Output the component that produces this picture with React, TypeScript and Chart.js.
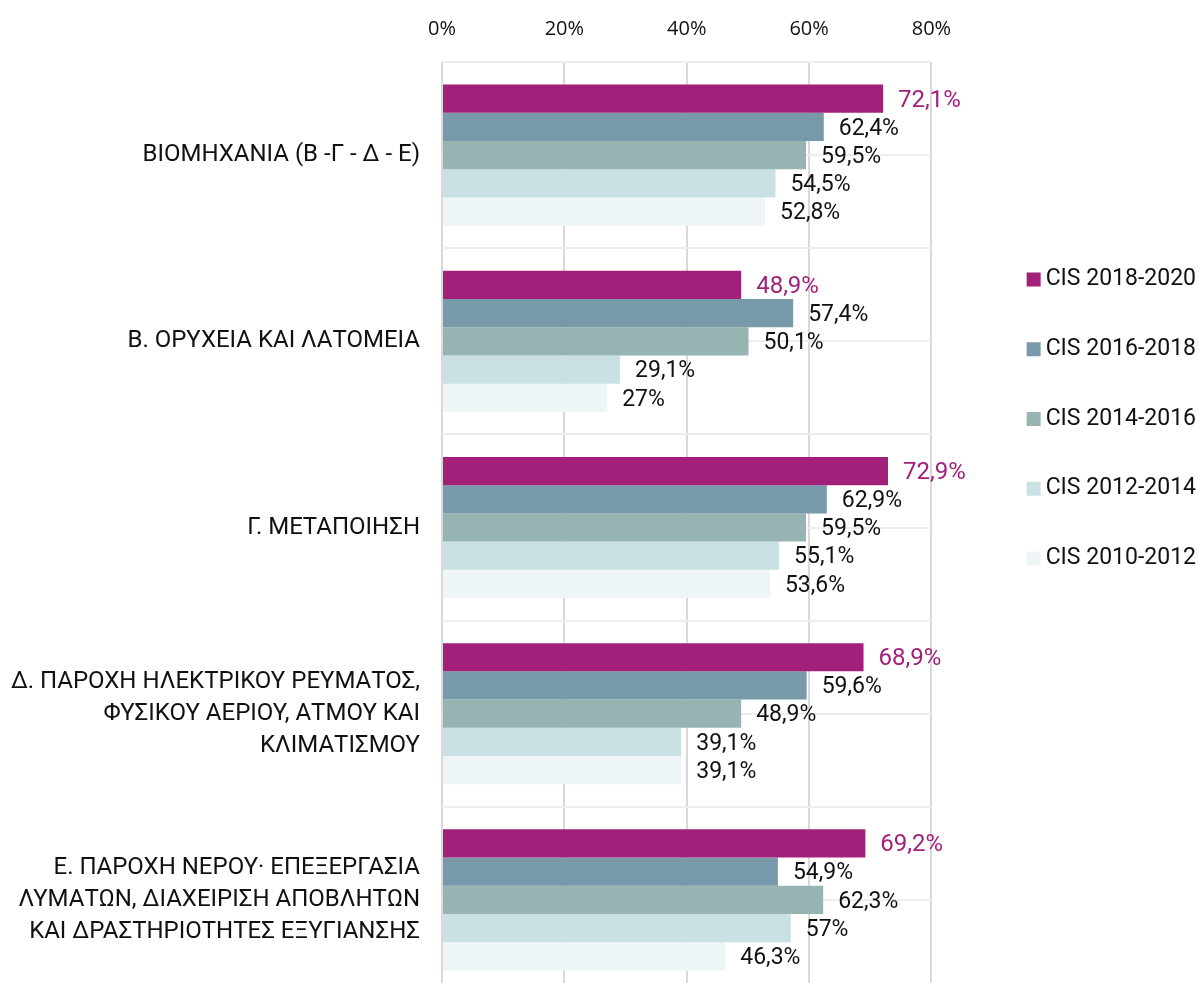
import React, { useEffect, useRef } from "react";
import { Chart, registerables } from "chart.js";

Chart.register(...registerables);

const categories: string[][] = [
  ["ΒΙΟΜΗΧΑΝΙΑ (Β -Γ - Δ - Ε)"],
  ["Β. ΟΡΥΧΕΙΑ ΚΑΙ ΛΑΤΟΜΕΙΑ"],
  ["Γ. ΜΕΤΑΠΟΙΗΣΗ"],
  ["Δ. ΠΑΡΟΧΗ ΗΛΕΚΤΡΙΚΟΥ ΡΕΥΜΑΤΟΣ,", "ΦΥΣΙΚΟΥ ΑΕΡΙΟΥ, ΑΤΜΟΥ ΚΑΙ", "ΚΛΙΜΑΤΙΣΜΟΥ"],
  ["Ε. ΠΑΡΟΧΗ ΝΕΡΟΥ· ΕΠΕΞΕΡΓΑΣΙΑ", "ΛΥΜΑΤΩΝ, ΔΙΑΧΕΙΡΙΣΗ ΑΠΟΒΛΗΤΩΝ", "ΚΑΙ ΔΡΑΣΤΗΡΙΟΤΗΤΕΣ ΕΞΥΓΙΑΝΣΗΣ"],
];

const seriesNames = ["CIS 2018-2020", "CIS 2016-2018", "CIS 2014-2016", "CIS 2012-2014", "CIS 2010-2012"];

const cis2018_2020 = [72.1, 48.9, 72.9, 68.9, 69.2];
const cis2016_2018 = [62.4, 57.4, 62.9, 59.6, 54.9];
const cis2014_2016 = [59.5, 50.1, 59.5, 48.9, 62.3];
const cis2012_2014 = [54.5, 29.1, 55.1, 39.1, 57];
const cis2010_2012 = [52.8, 27, 53.6, 39.1, 46.3];

const xTicks = [0, 20, 40, 60, 80];

const colors = ["#A21F7A", "#7799A9", "#96B4B1", "#C9E1E3", "#EEF5F7"];

const FONT = "Roboto, 'Noto Sans', sans-serif";

const fmt = (v: number) => String(v).replace(".", ",") + "%";

const labelPlugin = {
  id: "barValueLabels",
  afterDatasetsDraw(chart: any) {
    const ctx = chart.ctx;
    ctx.save();
    ctx.textAlign = "left";
    ctx.textBaseline = "middle";
    chart.data.datasets.forEach((ds: any, i: number) => {
      const meta = chart.getDatasetMeta(i);
      if (meta.hidden) return;
      ctx.fillStyle = i === 0 ? colors[0] : "#111111";
      ctx.font = i === 0 ? `24px ${FONT}` : `23px ${FONT}`;
      meta.data.forEach((bar: any, j: number) => {
        ctx.fillText(fmt(ds.data[j]), bar.x + 15, bar.y + 2);
      });
    });
    ctx.restore();
  },
};

export default function App() {
  const ref = useRef<HTMLCanvasElement | null>(null);

  useEffect(() => {
    document.body.style.margin = "0";
    if (!ref.current) return;
    const series = [cis2018_2020, cis2016_2018, cis2014_2016, cis2012_2014, cis2010_2012];
    const chart = new Chart(ref.current, {
      type: "bar",
      data: {
        labels: categories,
        datasets: series.map((d, i) => ({
          label: seriesNames[i],
          data: d,
          backgroundColor: colors[i],
          borderWidth: 0,
          barPercentage: 1,
          categoryPercentage: 0.758,
        })),
      },
      options: {
        indexAxis: "y",
        animation: false,
        responsive: true,
        maintainAspectRatio: false,
        layout: { padding: { left: 0, right: -6, top: 0, bottom: 0 } },
        scales: {
          x: {
            position: "top",
            min: 0,
            max: 80,
            afterBuildTicks: (s: any) => {
              s.ticks = xTicks.map((v) => ({ value: v }));
            },
            afterFit: (s: any) => {
              s.height = 62;
            },
            ticks: {
              callback: (v: any) => v + "%",
              font: { family: "'Open Sans', sans-serif", size: 20 },
              color: "#111111",
              padding: 21,
            },
            grid: { color: "#d9d9d9", lineWidth: 2, drawTicks: false },
            border: { display: false },
          },
          y: {
            position: "left",
            offset: true,
            afterFit: (s: any) => {
              s.width = 442;
              s.paddingTop = 0;
              s.paddingBottom = 0;
            },
            ticks: {
              font: { family: FONT, size: 24, lineHeight: 1.33 },
              color: "#111111",
              padding: 22,
            },
            grid: { color: "#eeeeee", lineWidth: 2, drawTicks: false, offset: true },
            border: { display: false },
          },
          y2: {
            type: "category",
            position: "right",
            labels: categories.map((c) => c.join(" ")),
            offset: true,
            afterFit: (s: any) => {
              s.width = 55;
              s.paddingTop = 0;
              s.paddingBottom = 0;
            },
            ticks: { display: false },
            grid: { color: "#eeeeee", lineWidth: 2, drawTicks: false, offset: false },
            border: { display: false },
          },
        } as any,
        plugins: {
          legend: {
            position: "right",
            align: "start",
            maxWidth: 300,
            title: { display: true, text: "", padding: { top: 207, bottom: 0 } },
            labels: {
              usePointStyle: true,
              pointStyle: "rect",
              boxWidth: 1,
              boxHeight: 14,
              padding: 46.7,
              color: "#111111",
              font: { family: FONT, size: 23 },
            },
          },
          tooltip: { enabled: false },
        },
      },
      plugins: [labelPlugin],
    });
    return () => chart.destroy();
  }, []);

  return (
    <div style={{ width: 1200, height: 983, overflow: "hidden" }}>
      <div style={{ position: "relative", width: 1200, height: 993 }}>
        <canvas ref={ref} />
      </div>
    </div>
  );
}
